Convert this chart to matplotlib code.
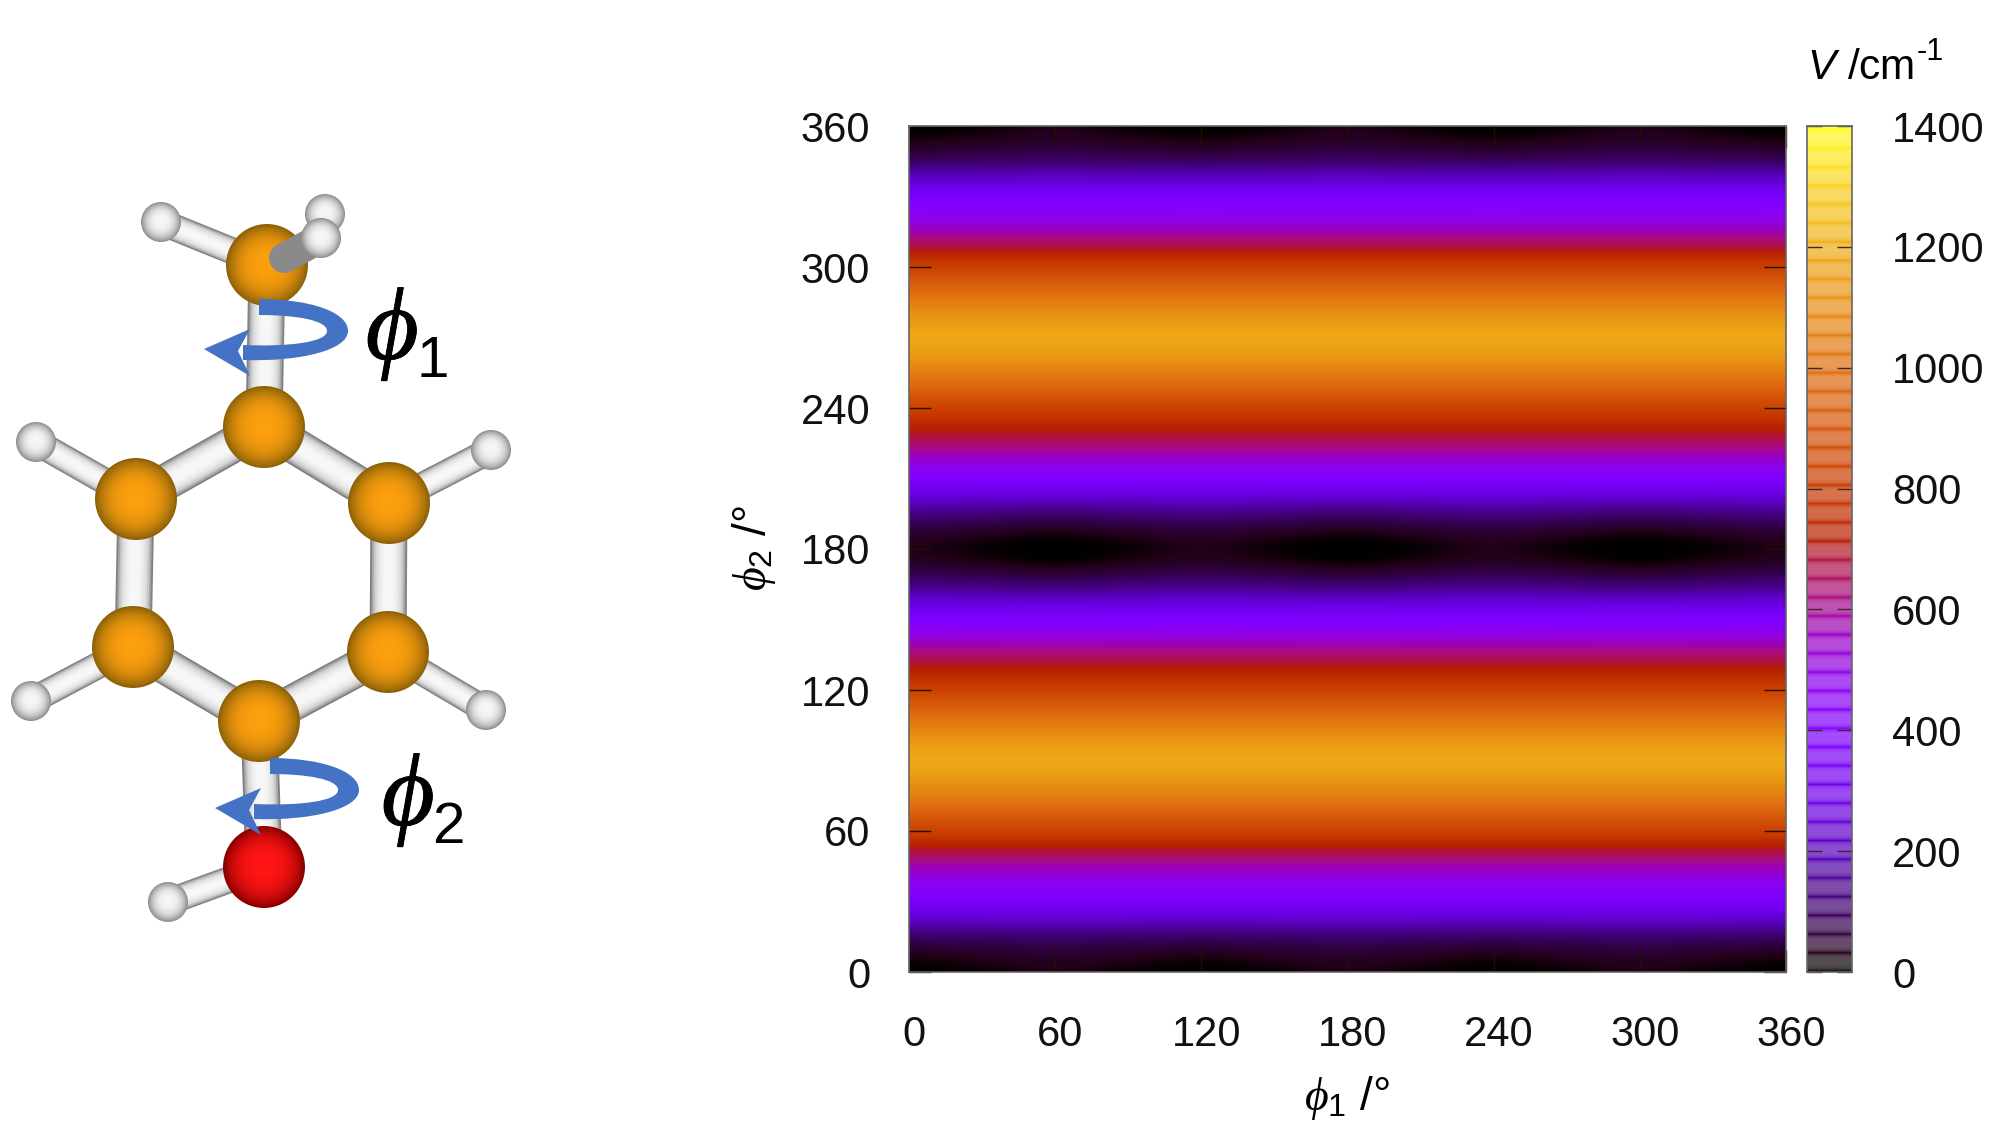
import matplotlib

matplotlib.use("Agg")
import matplotlib.patheffects as pe
import matplotlib.pyplot as plt
import numpy as np
from matplotlib.colors import LinearSegmentedColormap, to_rgb
from matplotlib.patches import Ellipse, PathPatch, Polygon
from matplotlib.path import Path
from matplotlib.transforms import ScaledTranslation

plt.rcParams["font.family"] = ["Liberation Sans", "DejaVu Sans"]
plt.rcParams["mathtext.fontset"] = "custom"
plt.rcParams["mathtext.rm"] = "Liberation Sans"
plt.rcParams["mathtext.it"] = "Liberation Serif:italic"
plt.rcParams["mathtext.sf"] = "Liberation Sans:italic"
plt.rcParams["mathtext.fallback"] = "stix"

W, H = 1997, 1146

# potential surface (cm-1)
phi1_grid = [0, 30, 60, 90, 120, 150, 180, 210, 240, 270, 300, 330, 360]
phi2_grid = list(range(0, 361, 15))
v_grid = [
    [0, 12, 26, 12, 0, 12, 26, 12, 0, 12, 26, 12, 0],
    [100, 105, 110, 105, 100, 105, 110, 105, 100, 105, 110, 105, 100],
    [365] * 13,
    [575] * 13,
    [825] * 13,
    [1050] * 13,
    [1185] * 13,
    [1050] * 13,
    [830] * 13,
    [640] * 13,
    [395] * 13,
    [130, 120, 110, 120, 130, 120, 110, 120, 130, 120, 110, 120, 130],
    [30, 15, 0, 15, 30, 15, 0, 15, 30, 15, 0, 15, 30],
    [130, 120, 110, 120, 130, 120, 110, 120, 130, 120, 110, 120, 130],
    [395] * 13,
    [640] * 13,
    [830] * 13,
    [1050] * 13,
    [1185] * 13,
    [1050] * 13,
    [825] * 13,
    [575] * 13,
    [365] * 13,
    [100, 105, 110, 105, 100, 105, 110, 105, 100, 105, 110, 105, 100],
    [0, 12, 26, 12, 0, 12, 26, 12, 0, 12, 26, 12, 0],
]
angle_ticks = [0, 60, 120, 180, 240, 300, 360]
cb_ticks = [0, 200, 400, 600, 800, 1000, 1200, 1400]

palette_values = [0, 12, 30, 100, 200, 300, 400, 480, 560, 620, 680, 720, 800, 1000, 1180, 1300, 1400]
palette_colors = [
    "#000000", "#060002", "#220018", "#3c0068", "#5a00c0", "#7000ee", "#8000ff",
    "#8c00f0", "#9a00c0", "#a80c80", "#b01040", "#b82000", "#c83a00", "#e06e10",
    "#eda516", "#f8d020", "#ffff20",
]

# molecule sketch, image pixels
carbons = [(267, 265), (264, 427), (136, 499), (389, 503), (133, 647), (388, 652), (259, 721)]
oxygen = (264, 867)
ring_hydrogens = [(161, 222), (36, 442), (491, 450), (31, 701), (486, 710), (168, 902)]
back_h = (325, 214)
front_h = (321, 238)
bonds = [(0, 1), (1, 2), (1, 3), (2, 4), (3, 5), (4, 6), (5, 6)]
h_bonds = [((161, 222), 0), ((36, 442), 2), ((491, 450), 3), ((31, 701), 4), ((486, 710), 5)]
arrow_offsets = [(0, 0), (11, 459)]

v_cmap = LinearSegmentedColormap.from_list(
    "v_map", [(v / 1400, c) for v, c in zip(palette_values, palette_colors)], N=1024
)
thick = [pe.withStroke(linewidth=0.6, foreground="black")]


def px_rect(left, top, right, bottom):
    return [left / W, 1 - bottom / H, (right - left) / W, (bottom - top) / H]


def draw_bond(ax, a, b, width, zorder=1):
    for frac, shade in zip(np.linspace(1, 0.1, 10), [0.5, 0.66, 0.78, 0.85, 0.89, 0.92, 0.94, 0.96, 0.97, 0.97]):
        ax.plot([a[0], b[0]], [a[1], b[1]], color=str(shade), lw=width * frac * 0.72,
                solid_capstyle="butt", zorder=zorder)


def draw_atom(ax, xy, r, inner, outer, zorder=2):
    c0, c1 = np.array(to_rgb(inner)), np.array(to_rgb(outer))
    for t in np.linspace(1, 0, 24):
        col = c0 + (c1 - c0) * t**3
        ax.add_patch(Ellipse((xy[0], xy[1] - 2 * (1 - t)), 2 * r * max(t, 0.02), 2 * r * max(t, 0.02),
                             color=col, lw=0, zorder=zorder))


def draw_rotation_arrow(ax, dx, dy):
    verts = [
        (259, 299), (310, 299), (348, 312), (348, 331),
        (348, 350), (300, 362), (243, 360),
        (243, 345),
        (290, 347), (327, 342), (327, 331),
        (327, 320), (295, 315), (259, 315),
        (259, 299),
    ]
    codes = [Path.MOVETO, Path.CURVE4, Path.CURVE4, Path.CURVE4, Path.CURVE4, Path.CURVE4, Path.CURVE4,
             Path.LINETO, Path.CURVE4, Path.CURVE4, Path.CURVE4, Path.CURVE4, Path.CURVE4, Path.CURVE4,
             Path.CLOSEPOLY]
    moved = [(x + dx, y + dy) for x, y in verts]
    ax.add_patch(PathPatch(Path(moved, codes), facecolor="#4472c4", lw=0, zorder=5))
    head = [(204, 349), (250, 329), (238, 351), (250, 376)]
    ax.add_patch(Polygon([(x + dx, y + dy) for x, y in head], facecolor="#4472c4", lw=0, zorder=5))


fig = plt.figure(figsize=(W / 100, H / 100), dpi=100)

# overlay in image pixels for the molecule and the free labels
sketch = fig.add_axes([0, 0, 1, 1])
sketch.set_xlim(0, W)
sketch.set_ylim(H, 0)
sketch.axis("off")

for i, j in bonds:
    draw_bond(sketch, carbons[i], carbons[j], 37)
for h, i in h_bonds:
    draw_bond(sketch, h, carbons[i], 27)
draw_bond(sketch, ring_hydrogens[5], oxygen, 27)
draw_bond(sketch, carbons[6], oxygen, 37)
draw_atom(sketch, back_h, 20, "#f6f6f6", "#8f8f8f", zorder=1)
for xy in carbons:
    draw_atom(sketch, xy, 41, "#fb9f0e", "#8f6208")
draw_atom(sketch, oxygen, 41, "#ff1414", "#8c0000")
for xy in ring_hydrogens:
    draw_atom(sketch, xy, 20, "#f6f6f6", "#8f8f8f")
sketch.plot([284, front_h[0]], [258, front_h[1]], color="#8a8a8a", lw=30 * 0.72,
            solid_capstyle="round", zorder=3)
draw_atom(sketch, front_h, 20, "#f6f6f6", "#8f8f8f", zorder=4)
for dx, dy in arrow_offsets:
    draw_rotation_arrow(sketch, dx, dy)

sketch.text(392, 334, r"$\phi$", fontsize=74, ha="center", va="center", zorder=6, path_effects=thick)
sketch.text(433, 362, "1", fontsize=42, ha="center", va="center", zorder=6)
sketch.text(408, 800, r"$\phi$", fontsize=74, ha="center", va="center", zorder=6, path_effects=thick)
sketch.text(448, 828, "2", fontsize=42, ha="center", va="center", zorder=6)

# heat map
ax = fig.add_axes(px_rect(909, 126, 1786, 972))
v = np.array(v_grid, dtype=float)
half_x = (phi1_grid[1] - phi1_grid[0]) / 2
half_y = (phi2_grid[1] - phi2_grid[0]) / 2
ax.imshow(
    v, origin="lower", cmap=v_cmap, vmin=0, vmax=1400, aspect="auto", interpolation="catrom",
    interpolation_stage="data",
    extent=[phi1_grid[0] - half_x, phi1_grid[-1] + half_x, phi2_grid[0] - half_y, phi2_grid[-1] + half_y],
)
ax.set_xlim(0, 360)
ax.set_ylim(0, 360)
ax.set_xticks(angle_ticks)
ax.set_yticks(angle_ticks)
ax.tick_params(direction="in", length=16, width=1, color="#201000", labelsize=30,
               top=True, right=True, labelcolor="#111111")
ax.tick_params(axis="x", pad=31)
ax.tick_params(axis="y", pad=28)
for label in ax.get_xticklabels():
    label.set_transform(label.get_transform() + ScaledTranslation(5 / 100, 0, fig.dpi_scale_trans))
for spine in ax.spines.values():
    spine.set_color("#666666")
    spine.set_linewidth(1.2)

# colour box, banded as in the original
cax = fig.add_axes(px_rect(1807, 126, 1852, 972))
bar_v = np.linspace(1400, 0, 846)
phase = (bar_v % 31) / 31
whiten = 0.3 * (1 - (2 * phase - 1) ** 4)
bar_rgb = v_cmap(bar_v / 1400)[:, :3]
bar_rgb = bar_rgb * (1 - whiten[:, None]) + whiten[:, None]
cax.imshow(bar_rgb[:, None, :], aspect="auto", extent=[0, 1, 0, 1400], interpolation="bilinear")
cax.set_xticks([])
cax.set_yticks(cb_ticks)
cax.yaxis.tick_right()
cax.tick_params(axis="y", direction="in", length=11, width=1, color="#402820", labelsize=30,
                pad=29, left=True, right=True, labelcolor="#111111")
for spine in cax.spines.values():
    spine.set_color("#666666")
    spine.set_linewidth(1.2)

sketch.set_zorder(3)
sketch.patch.set_alpha(0)
sketch.text(1347, 1098, r"$\phi_{\mathrm{1}}$ /°", fontsize=33, ha="center", va="center")
sketch.text(754, 548, r"$\phi_{\mathrm{2}}$ /°", fontsize=33, ha="center", va="center", rotation=90)
sketch.text(1807, 79, r"$\mathsf{V}$ /cm", fontsize=30.5, ha="left", va="baseline")
sketch.text(1917, 52, "-1", fontsize=22, ha="left", va="center")

fig.savefig("out.png", dpi=100)
